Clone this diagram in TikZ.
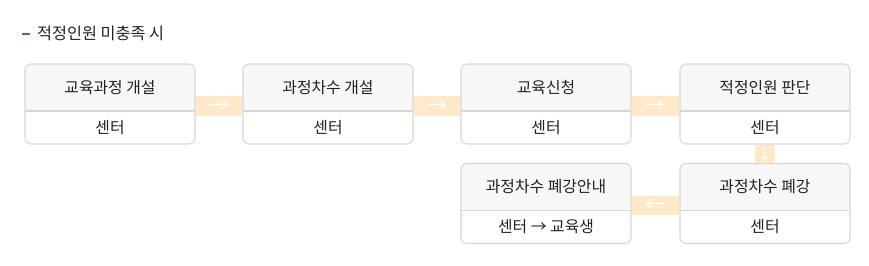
\documentclass[tikz,border=0pt]{standalone}
\usepackage{fontspec}
\setmainfont{Noto Sans CJK KR}
\usetikzlibrary{arrows.meta,positioning}
\definecolor{ink}{HTML}{222222}
\definecolor{dashc}{HTML}{4F6B8C}
\definecolor{edge}{HTML}{D6D6D6}
\definecolor{headbg}{HTML}{F7F7F7}
\definecolor{bandc}{HTML}{FEE9C8}
\tikzset{
  card/.style={draw=edge,line width=.8pt,rounded corners=4.5pt,minimum width=127.5pt,minimum height=60pt,inner sep=0pt,
    path picture={\fill[headbg] (path picture bounding box.north west) rectangle ([yshift=-35.25pt]path picture bounding box.north east);}},
  head/.style={minimum width=127.5pt,minimum height=35.25pt,inner sep=0pt,font=\fontsize{11.9pt}{14pt}\selectfont,text=ink},
  sub/.style={head,minimum height=24.4pt},
  rule/.style={draw=edge,line width=.8pt},
  band/.style={draw=bandc,line width=14.6pt},
  tip/.style={text=white,font=\fontsize{15pt}{15pt}\selectfont,inner sep=0pt},
  tipv/.style={tip,font=\fontsize{11pt}{11pt}\selectfont},
  ttl/.style={font=\fontsize{12.2pt}{15pt}\selectfont,text=ink,inner sep=0pt},
}

\begin{document}
\begin{tikzpicture}[x=.75pt,y=-.75pt]
  \useasboundingbox (0,0) rectangle (869,266);
  \node[ttl,anchor=base west] (title) at (22,39.5) {\textcolor{dashc}{\rule[3.6pt]{6pt}{1.6pt}}\hspace{5.2pt}적정인원 미충족 시};
  \foreach \n/\x/\y/\ttl/\sub in {1/110/104/교육과정 개설/센터,2/328/104/과정차수 개설/센터,3/546/104/교육신청/센터,4/765/104/적정인원 판단/센터,5/546/203.5/과정차수 폐강안내/센터 → 교육생,6/765/203.5/과정차수 폐강/센터} {
    \node[card] (c\n) at (\x,\y) {};
    \node[head,below=0pt of c\n.north] (h\n) {\ttl};
    \node[sub,below=0pt of h\n] (s\n) {\sub};
    \draw[rule] (h\n.south west) -- (h\n.south east);
  }
  % orange bands between the cards
  \foreach \a/\b in {1/2,2/3,3/4} {
    \draw[band] ([yshift=-1.5pt]c\a.east) -- node[tip]{→} ([yshift=-1.5pt]c\b.west);
  }
  \draw[band] (c4.south) -- node[tipv]{↓} (c6.north);
  \draw[band] ([yshift=-1.5pt]c6.west) -- node[tip]{←} ([yshift=-1.5pt]c5.east);
\end{tikzpicture}
\end{document}
